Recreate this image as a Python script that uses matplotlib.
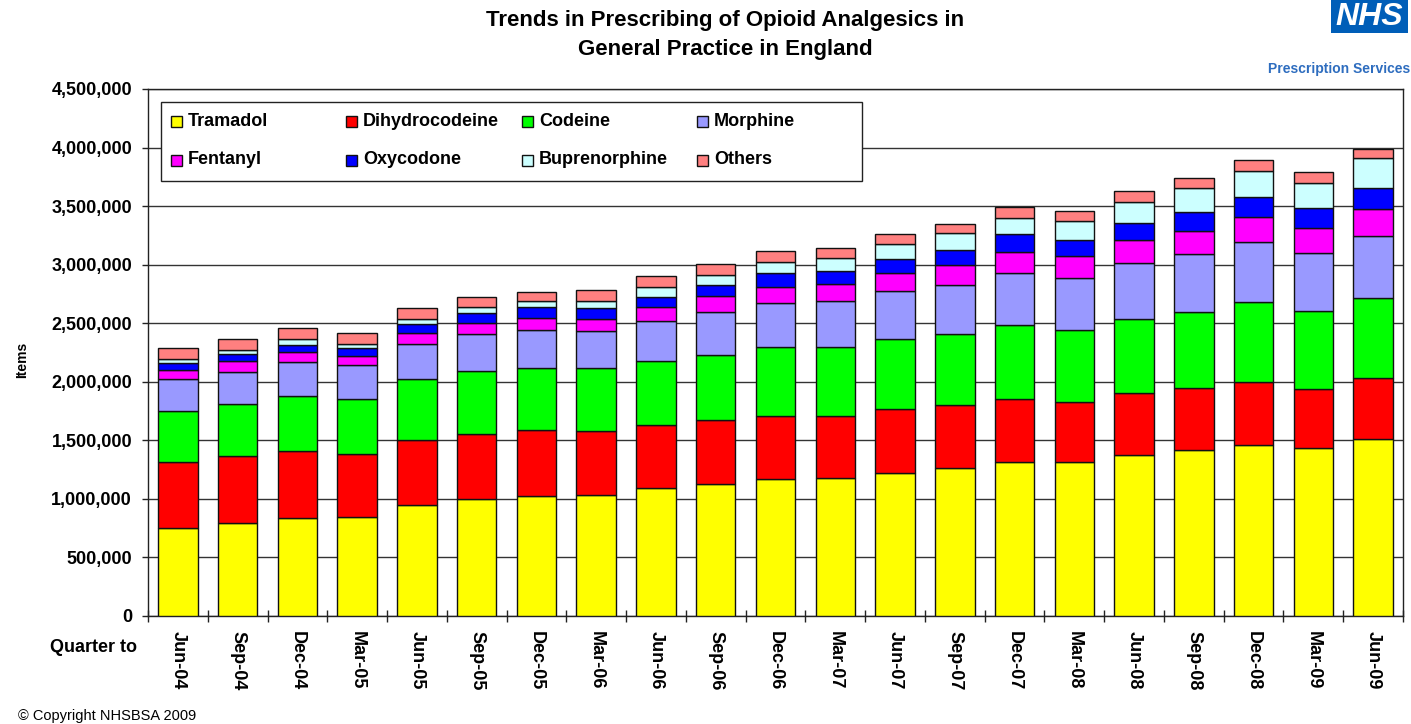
import matplotlib
matplotlib.use("Agg")
import matplotlib.pyplot as plt
import matplotlib.ticker as mticker
from matplotlib.patches import Rectangle
import numpy as np

plt.rcParams['font.family'] = ['Liberation Sans', 'DejaVu Sans']

quarters = ["Jun-04", "Sep-04", "Dec-04", "Mar-05", "Jun-05", "Sep-05", "Dec-05",
            "Mar-06", "Jun-06", "Sep-06", "Dec-06", "Mar-07", "Jun-07", "Sep-07",
            "Dec-07", "Mar-08", "Jun-08", "Sep-08", "Dec-08", "Mar-09", "Jun-09"]

# Items (thousands)
tramadol = [749, 791, 839, 845, 950, 999, 1025, 1036, 1090, 1130, 1170, 1181, 1224,
            1261, 1318, 1318, 1379, 1420, 1459, 1435, 1515]
dihydrocodeine = [566, 575, 570, 538, 553, 555, 566, 544, 538, 541, 538, 527, 541,
                  540, 537, 512, 528, 531, 540, 502, 513]
codeine = [433, 447, 469, 470, 520, 535, 524, 535, 552, 560, 589, 589, 600, 604,
           630, 615, 631, 641, 681, 666, 684]
morphine = [273, 270, 288, 287, 299, 316, 327, 316, 341, 367, 378, 392, 407, 418,
            443, 444, 472, 501, 513, 499, 537]
fentanyl = [77, 97, 91, 80, 94, 99, 100, 107, 117, 131, 134, 146, 156, 174, 183,
            185, 198, 198, 210, 209, 224]
oxycodone = [59, 54, 57, 65, 77, 86, 99, 89, 88, 94, 117, 108, 123, 131, 148, 136,
             145, 159, 174, 174, 183]
buprenorphine = [35, 37, 48, 37, 40, 51, 51, 65, 83, 88, 94, 116, 125, 142, 142,
                 165, 182, 203, 224, 210, 251]
others = [93, 94, 94, 94, 94, 80, 77, 91, 91, 97, 96, 83, 83, 80, 88, 83, 98, 86,
          91, 94, 80]

series_names = ["Tramadol", "Dihydrocodeine", "Codeine", "Morphine",
                "Fentanyl", "Oxycodone", "Buprenorphine", "Others"]
series_values = [tramadol, dihydrocodeine, codeine, morphine,
                 fentanyl, oxycodone, buprenorphine, others]
colors = ["#FFFF00", "#FF0000", "#00FF00", "#9999FF",
          "#FF00FF", "#0000FF", "#CCFFFF", "#FF8080"]

W, H = 1411, 724
fig = plt.figure(figsize=(W / 100, H / 100), dpi=100)
L, R, T, B = 148, 1403, 89, 616
ax = fig.add_axes([L / W, (H - B) / H, (R - L) / W, (B - T) / H])

x = np.arange(len(quarters))
bottom = np.zeros(len(quarters))
for name, vals, c in zip(series_names, series_values, colors):
    v = np.array(vals, dtype=float) * 1000
    ax.bar(x, v, width=0.66, bottom=bottom, color=c, edgecolor="#111111",
           linewidth=1.0, zorder=3, label=name)
    bottom += v

ax.set_xlim(-0.5, len(quarters) - 0.5)
ax.set_ylim(0, 4500000)
ax.yaxis.set_major_locator(mticker.MultipleLocator(500000))
ax.yaxis.set_major_formatter(mticker.FuncFormatter(lambda v, p: f"{v:,.0f}"))
ax.grid(axis="y", color="#333333", linewidth=1.0, zorder=0)
ax.set_axisbelow(True)
for s in ax.spines.values():
    s.set_color("#222222")
    s.set_linewidth(1.0)

ax.tick_params(axis="y", direction="out", length=4.5, width=1.0, pad=7,
               labelsize=13, colors="#222222", labelcolor="black")
for lab in ax.get_yticklabels():
    lab.set_fontweight("bold")

ax.set_xticks(x)
ax.set_xticklabels(quarters, rotation=270, fontsize=13, fontweight="bold",
                   ha="center", va="top")
ax.tick_params(axis="x", which="major", length=0, pad=11)
ax.set_xticks(np.arange(-0.5, len(quarters)), minor=True)
ax.tick_params(axis="x", which="minor", direction="inout", length=8, width=1.0,
               colors="#222222")

# Legend (custom layout to match reference spacing)
def ax_xy(px, py):
    return ((px - L) / (R - L), (B - py) / (B - T))

x0, y0 = ax_xy(161, 181)
x1, y1 = ax_xy(862, 102)
ax.add_patch(Rectangle((x0, y0), x1 - x0, y1 - y0, transform=ax.transAxes,
                       facecolor="white", edgecolor="#222222", linewidth=1.0,
                       zorder=5, clip_on=False))
col_px = [171, 346, 522, 697]
row_py = [121, 160]
for k, idx in enumerate(range(len(series_names))):
    r, cidx = divmod(k, 4)
    sx, sy = ax_xy(col_px[cidx], row_py[r] + 5.5)
    sx2, sy2 = ax_xy(col_px[cidx] + 11, row_py[r] - 5.5)
    ax.add_patch(Rectangle((sx, sy), sx2 - sx, sy2 - sy, transform=ax.transAxes,
                           facecolor=colors[idx], edgecolor="#111111",
                           linewidth=1.0, zorder=6, clip_on=False))
    tx, ty = ax_xy(col_px[cidx] + 17, row_py[r])
    ax.text(tx, ty, series_names[idx], transform=ax.transAxes, fontsize=13,
            fontweight="bold", ha="left", va="center", zorder=7)

# Titles and labels
fig.text(725 / W, 1 - 35 / H, "Trends in Prescribing of Opioid Analgesics in\nGeneral Practice in England",
         ha="center", va="center", fontsize=16, fontweight="bold", linespacing=1.45)
fig.text(22 / W, 1 - 360 / H, "Items", rotation=90, ha="center", va="center",
         fontsize=10, fontweight="bold")
fig.text(94 / W, 1 - 648 / H, "Quarter to", ha="center", va="center",
         fontsize=13, fontweight="bold")
fig.text(18 / W, 1 - 716 / H, "\u00a9 Copyright NHSBSA 2009", ha="left", va="center",
         fontsize=10.5)

# NHS logo
fig.patches.append(Rectangle((1331 / W, 1 - 33 / H), 77 / W, 33 / H,
                             transform=fig.transFigure, facecolor="#005EB8",
                             edgecolor="none"))
fig.text(1369 / W, 1 - 17 / H, "NHS", ha="center", va="center", color="white",
         fontsize=23, fontweight="bold", fontstyle="italic")
fig.text(1410 / W, 1 - 69 / H, "Prescription Services", ha="right", va="center",
         color="#2E6DBF", fontsize=10, fontweight="bold")

fig.savefig("out.png", dpi=100)
